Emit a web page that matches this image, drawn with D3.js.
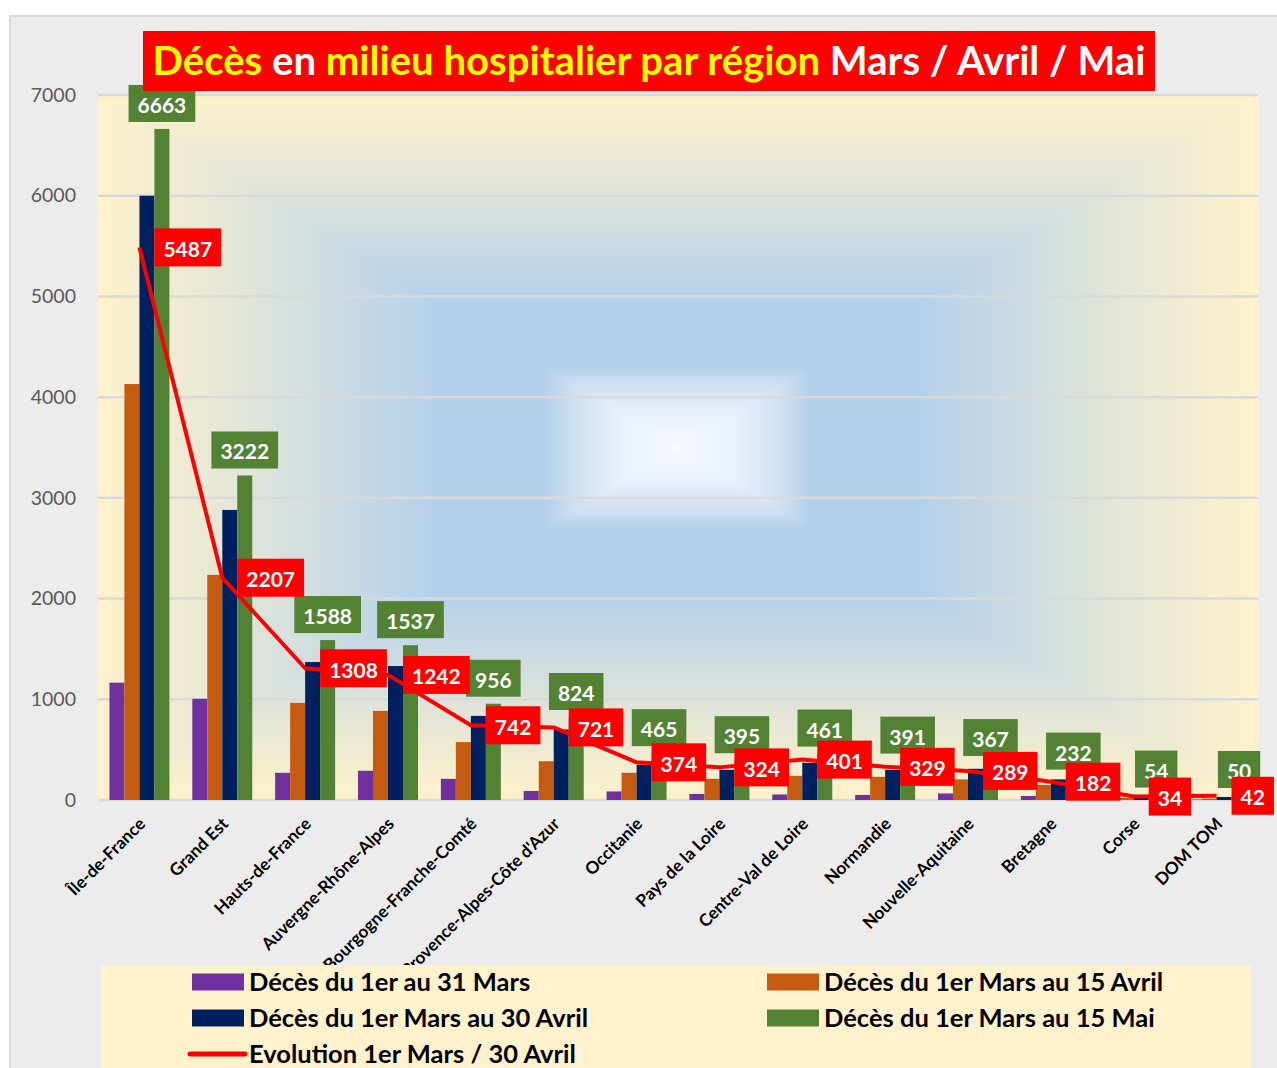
<!DOCTYPE html>
<html>
<head>
<meta charset="utf-8">
<script src="https://cdn.jsdelivr.net/npm/d3@7"></script>
<style>
    body { margin: 0; background: #ffffff; }
    text { font-family: Lato, 'Open Sans', sans-serif; }
</style>
</head>
<body>
<div id="chart"></div>
<script>
'use strict';

const regions = [
    'Île-de-France', 'Grand Est', 'Hauts-de-France', 'Auvergne-Rhône-Alpes',
    'Bourgogne-Franche-Comté', "Provence-Alpes-Côte d'Azur", 'Occitanie',
    'Pays de la Loire', 'Centre-Val de Loire', 'Normandie', 'Nouvelle-Aquitaine',
    'Bretagne', 'Corse', 'DOM TOM'
];

const seriesNames = [
    'Décès du 1er au 31 Mars',
    'Décès du 1er Mars au 15 Avril',
    'Décès du 1er Mars au 30 Avril',
    'Décès du 1er Mars au 15 Mai'
];
const lineName = 'Evolution 1er Mars / 30 Avril';

const deces31Mars = [1165, 1005, 270, 290, 210, 90, 85, 60, 55, 50, 65, 40, 5, 5];
const deces15Avril = [4130, 2235, 965, 885, 575, 385, 270, 210, 240, 230, 205, 150, 20, 15];
const deces30Avril = [6000, 2880, 1370, 1330, 835, 700, 350, 300, 370, 300, 310, 205, 40, 30];
const deces15Mai = [6663, 3222, 1588, 1537, 956, 824, 465, 395, 461, 391, 367, 232, 54, 50];
const evolution = [5487, 2207, 1308, 1242, 742, 721, 374, 324, 401, 329, 289, 182, 34, 42];

const yTicks = [0, 1000, 2000, 3000, 4000, 5000, 6000, 7000];

const seriesValues = [deces31Mars, deces15Avril, deces30Avril, deces15Mai];
const seriesColours = ['#7030a0', '#c55a11', '#002060', '#548235'];

const W = 1277, H = 1068;
const plot = { left: 98, right: 1258, top: 95, bottom: 800 };

const svg = d3.select('#chart').append('svg')
    .attr('width', W)
    .attr('height', H);

// outer chart frame
svg.append('rect')
    .attr('x', 10).attr('y', 16)
    .attr('width', W - 9).attr('height', H - 15)
    .attr('fill', '#ececec')
    .attr('stroke', '#d9d9d9')
    .attr('stroke-width', 2);

// plot background: rectangular path gradient cream -> blue -> white, painted on a canvas
const bgColour = d3.scaleLinear()
    .domain([0, 0.1, 0.18, 0.225, 0.42, 0.58, 0.78, 1])
    .range(['#f8fbff', '#e8f0fa', '#cfe0f2', '#b4d1eb', '#b4d1eb', '#cbdbe4', '#e6e7d6', '#fff2cc'])
    .interpolate(d3.interpolateRgb)
    .clamp(true);

const cw = 290, ch = 176;
const canvas = document.createElement('canvas');
canvas.width = cw; canvas.height = ch;
const ctx = canvas.getContext('2d');
const img = ctx.createImageData(cw, ch);
for (let j = 0; j < ch; j++) {
    for (let i = 0; i < cw; i++) {
        const tx = Math.abs((i + 0.5) / cw - 0.5) * 2;
        const ty = Math.abs((j + 0.5) / ch - 0.5) * 2;
        const c = d3.rgb(bgColour(Math.max(tx, ty)));
        const k = (j * cw + i) * 4;
        img.data[k] = c.r; img.data[k + 1] = c.g; img.data[k + 2] = c.b; img.data[k + 3] = 255;
    }
}
ctx.putImageData(img, 0, 0);

svg.append('image')
    .attr('x', plot.left).attr('y', plot.top)
    .attr('width', plot.right - plot.left)
    .attr('height', plot.bottom - plot.top)
    .attr('preserveAspectRatio', 'none')
    .attr('href', canvas.toDataURL());

// scales
const x0 = d3.scaleBand()
    .domain(regions)
    .range([plot.left, plot.right]);

const groupWidth = 60;
const x1 = d3.scaleBand()
    .domain(d3.range(seriesValues.length))
    .range([0, groupWidth]);

const y = d3.scaleLinear()
    .domain([0, 7000])
    .range([plot.bottom, plot.top]);

const cx = function (r) { return x0(r) + x0.bandwidth() / 2; };

// gridlines
svg.append('g')
    .selectAll('line')
    .data(yTicks)
    .join('line')
    .attr('x1', plot.left).attr('x2', plot.right)
    .attr('y1', function (d) { return y(d); })
    .attr('y2', function (d) { return y(d); })
    .attr('stroke', '#d9d9d9')
    .attr('stroke-width', 2.5);

// y axis
const yAxis = svg.append('g')
    .attr('transform', `translate(${plot.left},0)`)
    .call(d3.axisLeft(y).tickValues(yTicks).tickFormat(d3.format('d')).tickSize(0).tickPadding(22));
yAxis.select('.domain').remove();
yAxis.selectAll('text')
    .attr('font-family', "'DejaVu Sans', sans-serif")
    .attr('font-size', 19.5)
    .attr('fill', '#595959');

// x axis labels, rotated
const xAxis = svg.append('g')
    .attr('transform', `translate(0,${plot.bottom})`)
    .call(d3.axisBottom(x0).tickSize(0));
xAxis.select('.domain').remove();
xAxis.selectAll('text')
    .attr('x', 0).attr('y', 0).attr('dy', 0)
    .attr('transform', 'translate(7,25) rotate(-45)')
    .attr('text-anchor', 'end')
    .attr('font-family', 'Lato, sans-serif')
    .attr('font-weight', 700)
    .attr('font-size', 17.2)
    .attr('fill', '#000');

// bars
const barData = regions.flatMap(function (r, i) {
    return seriesValues.map(function (vals, s) {
        return { region: r, s: s, value: vals[i] };
    });
});

svg.append('g')
    .selectAll('rect')
    .data(barData)
    .join('rect')
    .attr('x', function (d) { return cx(d.region) - groupWidth / 2 + x1(d.s); })
    .attr('y', function (d) { return y(d.value); })
    .attr('width', x1.bandwidth())
    .attr('height', function (d) { return plot.bottom - y(d.value); })
    .attr('fill', function (d) { return seriesColours[d.s]; });

// value label in a coloured box
function labelBox(parent, x, yTop, h, txt, fill, anchorLeft) {
    const g = parent.append('g');
    const rect = g.append('rect').attr('fill', fill);
    const t = g.append('text')
        .attr('font-weight', 700)
        .attr('font-size', 21)
        .attr('fill', '#fff')
        .attr('text-anchor', 'middle')
        .attr('dominant-baseline', 'central')
        .text(txt);
    const w = t.node().getComputedTextLength() + 18;
    const left = anchorLeft ? x : x - w / 2;
    rect.attr('x', left).attr('y', yTop).attr('width', w).attr('height', h);
    t.attr('x', left + w / 2).attr('y', yTop + h / 2 + 1);
}

// labels above the green bars
const greenLabels = svg.append('g');
regions.forEach(function (r, i) {
    const bx = cx(r) - groupWidth / 2 + x1(3) + x1.bandwidth() / 2;
    const top = y(deces15Mai[i]) - 7 - 37;
    labelBox(greenLabels, bx, top, 37, deces15Mai[i], '#548235', false);
});

// evolution line
const lineGen = d3.line()
    .x(function (d, i) { return cx(regions[i]); })
    .y(function (d) { return y(d); });

svg.append('path')
    .datum(evolution)
    .attr('fill', 'none')
    .attr('stroke', '#ff0000')
    .attr('stroke-width', 4)
    .attr('stroke-linejoin', 'round')
    .attr('d', lineGen);

const redLabels = svg.append('g');
evolution.forEach(function (v, i) {
    labelBox(redLabels, cx(regions[i]) + 15, y(v) - 19, 38, v, '#ff0000', true);
});

// title
svg.append('rect')
    .attr('x', 143).attr('y', 31)
    .attr('width', 1012).attr('height', 60)
    .attr('fill', '#ff0000');

const title = svg.append('text')
    .attr('x', 649).attr('y', 75)
    .attr('text-anchor', 'middle')
    .attr('font-weight', 700)
    .attr('font-size', 38);
[
    ['Décès ', '#ffff00'], ['en ', '#ffffff'],
    ['milieu hospitalier par région ', '#ffff00'], ['Mars / Avril / Mai', '#ffffff']
].forEach(function (p) {
    title.append('tspan').attr('fill', p[1]).text(p[0]);
});
const tw = title.node().getComputedTextLength();
title.attr('font-size', 38 * 993 / tw);

// legend
svg.append('rect')
    .attr('x', 101).attr('y', 965)
    .attr('width', 1150).attr('height', 110)
    .attr('fill', '#fff2cc');

const legendItems = seriesNames.map(function (name, s) {
    return { name: name, colour: seriesColours[s], col: s % 2, row: Math.floor(s / 2), type: 'bar' };
});
legendItems.push({ name: lineName, colour: '#ff0000', col: 0, row: 2, type: 'line' });

const legend = svg.append('g');
legendItems.forEach(function (d) {
    const lx = d.col === 0 ? 192 : 767;
    const ly = 982 + d.row * 36;
    if (d.type === 'bar') {
        legend.append('rect')
            .attr('x', lx).attr('y', ly - 8.5)
            .attr('width', 52).attr('height', 17)
            .attr('fill', d.colour);
    } else {
        legend.append('line')
            .attr('x1', lx - 2).attr('x2', lx + 53)
            .attr('y1', ly).attr('y2', ly)
            .attr('stroke', d.colour)
            .attr('stroke-width', 5)
            .attr('stroke-linecap', 'round');
    }
    legend.append('text')
        .attr('x', lx + 57).attr('y', ly + 8.5)
        .attr('font-weight', 700)
        .attr('font-size', 25.5)
        .attr('fill', '#000')
        .text(d.name);
});
</script>
</body>
</html>
